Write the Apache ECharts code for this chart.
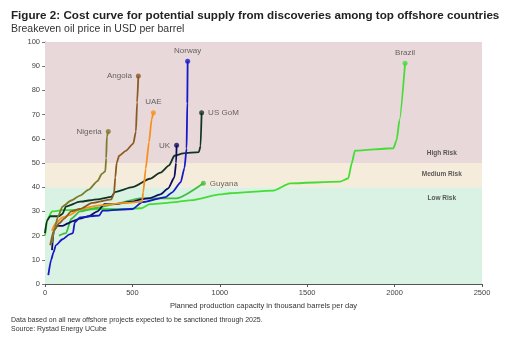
<!DOCTYPE html>
<html><head><meta charset="utf-8">
<script src="https://cdn.jsdelivr.net/npm/echarts@6/dist/echarts.min.js"></script>
<style>html,body{margin:0;padding:0;background:#fff}#c{width:508px;height:337px}</style>
</head><body><div id="c"></div>
<script>
var xTicks = [0, 500, 1000, 1500, 2000, 2500];
var yTicks = [0, 10, 20, 30, 40, 50, 60, 70, 80, 90, 100];
var bands = [["Low Risk", 0, 40], ["Medium Risk", 40, 50], ["High Risk", 50, 100]];

var nigeria = [[40,17],[55,23],[75,28],[100,32],[150,34.5],[200,36.5],[250,39],[300,42.5],[325,45.5],[345,46.5],[350,52],[354,61],[362,63]];
var angola = [[30,16],[50,22],[80,25],[110,27],[150,30],[200,31],[270,33.5],[380,35],[395,37.5],[402,44],[410,50],[424,53],[462,55],[505,58],[520,63],[527,75],[534,86]];
var uae = [[40,22],[60,25],[100,27.5],[140,28.5],[200,31],[310,32.5],[460,33.5],[555,34],[562,38],[576,47.6],[595,58.6],[610,68],[620,70.8]];
var norway = [[19,3.7],[35,10],[48,13],[62,16],[100,18.5],[140,20.5],[160,21],[170,25.5],[200,27.5],[310,28.3],[329,30.3],[500,31],[557,33.8],[690,35.9],[728,37.9],[776,42],[798,48],[810,56],[814,75],[816,92]];
var usgom = [[0,21],[10,26],[30,28],[80,28],[100,29],[120,32],[200,34],[300,35],[380,36],[400,38],[500,40],[600,43.5],[660,46],[710,49],[740,53],[790,54],[880,54.5],[890,57],[896,70.8]];
var uk = [[40,14],[50,22],[70,24],[100,24],[130,25],[160,26],[200,27],[250,28],[300,30],[340,33],[400,33],[500,34],[550,35],[600,35.5],[660,37],[705,39.5],[740,44],[750,50],[753,57.3]];
var guyana = [[80,20],[120,21],[150,27],[200,30],[300,31.5],[400,33],[543,35.4],[753,35.4],[906,41.6]];
var brazil = [[0,20],[15,27],[40,30],[100,30.5],[300,31],[450,31],[550,31.3],[600,33],[700,33.5],[849,34.7],[1000,37],[1058,37.5],[1306,38.6],[1402,41.6],[1688,42.3],[1735,43.7],[1755,49.9],[1773,55.1],[1993,56.1],[2012,59.5],[2028,67.8],[2060,91.2]];

var countries = [
  {name:"Brazil", data:brazil, color:"#43dd35", pos:"top"},
  {name:"Guyana", data:guyana, color:"#3fbf3f", pos:"right"},
  {name:"US GoM", data:usgom, color:"#123323", pos:"right"},
  {name:"UK", data:uk, color:"#0c0c5e", pos:"left"},
  {name:"Norway", data:norway, color:"#1818c8", pos:"top"},
  {name:"UAE", data:uae, color:"#f7901e", pos:"top"},
  {name:"Angola", data:angola, color:"#8b5a22", pos:"left"},
  {name:"Nigeria", data:nigeria, color:"#7e7a2c", pos:"left"}
];

var series = [];
series.push({
  type:'line', data:[], silent:true,
  markArea:{silent:true, data:[
    [{yAxis:bands[0][1], itemStyle:{color:'#d9f2e3'}},{yAxis:bands[0][2]}],
    [{yAxis:bands[1][1], itemStyle:{color:'#f6ecdb'}},{yAxis:bands[1][2]}],
    [{yAxis:bands[2][1], itemStyle:{color:'#e8d8da'}},{yAxis:bands[2][2]}]
  ]}
});
countries.forEach(function(c){
  series.push({type:'line', name:c.name, data:c.data, smooth:0.2, smoothMonotone:'x', symbol:'none',
    lineStyle:{color:c.color, width:1.8}, z:3, silent:true});
  var last = c.data[c.data.length-1];
  series.push({type:'scatter', data:[last], symbolSize:5, itemStyle:{color:c.color}, z:4, silent:true,
    label:{show:true, position:c.pos, formatter:c.name, color:'#444', fontSize:8, fontFamily:'Liberation Sans', distance:4}});
});
// band labels: High label just above its lower edge, others just below their upper edge
series.push({type:'scatter', data:bands.map(function(b){return [2270, b[0]==="High Risk" ? b[1]+4 : b[2]-4.5];}), symbolSize:0, silent:true,
  label:{show:true, position:'inside', formatter:function(p){return bands[p.dataIndex][0];}, color:'#333', fontSize:6.5, fontWeight:'bold', fontFamily:'Liberation Sans'}});

var chart = echarts.init(document.getElementById('c'), null, {renderer:'canvas'});
chart.setOption({
  animation:false,
  backgroundColor:'#fff',
  title:[
    {text:'Figure 2: Cost curve for potential supply from discoveries among top offshore countries', left:6, top:5,
     textStyle:{fontSize:11.65, fontWeight:'bold', color:'#222', fontFamily:'Liberation Sans'}},
    {text:'Breakeven oil price in USD per barrel', left:6, top:19, textStyle:{fontSize:10.5, fontWeight:'normal', color:'#333', fontFamily:'Liberation Sans'}},
    {text:'Data based on all new offshore projects expected to be sanctioned through 2025.\nSource: Rystad Energy UCube', left:6, top:311,
     textStyle:{fontSize:7, fontWeight:'normal', color:'#333', lineHeight:9, fontFamily:'Liberation Sans'}}
  ],
  grid:{left:45, right:26, top:42, bottom:53, containLabel:false},
  xAxis:{type:'value', min:xTicks[0], max:xTicks[xTicks.length-1], interval:500,
    name:'Planned production capacity in thousand barrels per day', nameLocation:'middle', nameGap:14,
    nameTextStyle:{fontSize:7.5, color:'#333', fontFamily:'Liberation Sans'},
    axisLine:{show:true, lineStyle:{color:'#555', width:1}}, axisTick:{show:true, length:3, lineStyle:{color:'#555'}},
    axisLabel:{fontSize:7.5, color:'#444', margin:5, fontFamily:'Liberation Sans', formatter:function(v){return String(v);}},
    splitLine:{show:true, lineStyle:{color:'rgba(255,255,255,0.55)', width:1}}},
  yAxis:{type:'value', min:yTicks[0], max:yTicks[yTicks.length-1], interval:10,
    axisLine:{show:true, lineStyle:{color:'#777', width:1}}, axisTick:{show:true, length:3, lineStyle:{color:'#777'}},
    axisLabel:{fontSize:7.5, color:'#444', margin:5, fontFamily:'Liberation Sans', formatter:function(v){return String(v);}},
    splitLine:{show:true, lineStyle:{color:'rgba(255,255,255,0.55)', width:1}}},
  series:series
});
</script></body></html>
